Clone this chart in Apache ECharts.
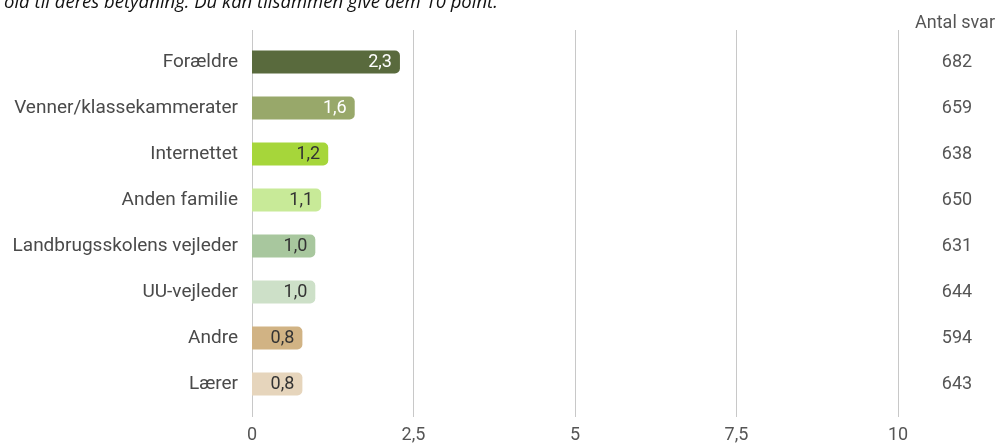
<!DOCTYPE html>
<html>
<head>
<meta charset="utf-8">
<script src="https://cdn.jsdelivr.net/npm/echarts@6/dist/echarts.min.js"></script>
<style>
  html, body { margin: 0; padding: 0; background: #fff; }
  #chart { width: 1003px; height: 444px; }
</style>
</head>
<body>
<div id="chart"></div>
<script>
var categories = ['Forældre', 'Venner/klassekammerater', 'Internettet', 'Anden familie',
  'Landbrugsskolens vejleder', 'UU-vejleder', 'Andre', 'Lærer']
var values = [2.29, 1.59, 1.18, 1.07, 0.98, 0.98, 0.78, 0.78]
var antalSvar = ['682', '659', '638', '650', '631', '644', '594', '643']
var barColors = ['#596a3d', '#98a86a', '#a6d63a', '#c8ea98', '#a8c79e', '#cde0c8', '#d1b384', '#e6d5bc']
var labelColors = ['#fff', '#fff', '#333', '#333', '#333', '#333', '#333', '#333']

var chart = echarts.init(document.getElementById('chart'))

var option = {
  animation: false,
  textStyle: { fontFamily: 'Roboto' },
  title: [
    {
      text: 'old til deres betydning. Du kan tilsammen give dem 10 point.',
      left: -1,
      top: -12,
      textStyle: { fontFamily: 'Open Sans', fontStyle: 'italic', fontWeight: 'normal', fontSize: 18.5, color: '#111' }
    },
    {
      text: 'Antal svar',
      right: 3,
      top: 9,
      textStyle: { fontFamily: 'Roboto', fontWeight: 'normal', fontSize: 18, color: '#555' }
    }
  ],
  grid: { left: 252, right: 105, top: 39, bottom: 36 },
  xAxis: [
    {
      type: 'value',
      min: 0,
      max: 10,
      interval: 2.5,
      axisLine: { show: false },
      axisTick: { show: true, length: 10, lineStyle: { color: '#c8c8c8' } },
      splitLine: { show: true, lineStyle: { color: '#c8c8c8', width: 1 } },
      axisLabel: {
        margin: 19,
        fontSize: 18,
        color: '#555',
        formatter: function (v) { return String(v).replace('.', ',') }
      }
    },
    {
      type: 'value',
      position: 'top',
      min: 0,
      max: 10,
      interval: 2.5,
      axisLine: { show: false },
      axisTick: { show: true, length: 9, lineStyle: { color: '#c8c8c8' } },
      splitLine: { show: false },
      axisLabel: { show: false }
    }
  ],
  yAxis: [
    {
      type: 'category',
      data: categories,
      inverse: true,
      axisLine: { show: false },
      axisTick: { show: false },
      axisLabel: { margin: 14, fontSize: 19, color: '#4a4a4a' }
    },
    {
      type: 'category',
      data: antalSvar,
      inverse: true,
      position: 'right',
      axisLine: { show: false },
      axisTick: { show: false },
      axisLabel: { margin: 59, align: 'center', fontSize: 18, color: '#555' }
    }
  ],
  series: [
    {
      type: 'bar',
      barWidth: 23,
      data: values.map(function (v, i) {
        return {
          value: v,
          itemStyle: { color: barColors[i], borderRadius: [0, 5, 5, 0] },
          label: { color: labelColors[i] }
        }
      }),
      label: {
        show: true,
        position: 'insideRight',
        distance: 8,
        fontSize: 18,
        formatter: function (p) { return p.value.toFixed(1).replace('.', ',') }
      }
    }
  ]
}

chart.setOption(option)
</script>
</body>
</html>
